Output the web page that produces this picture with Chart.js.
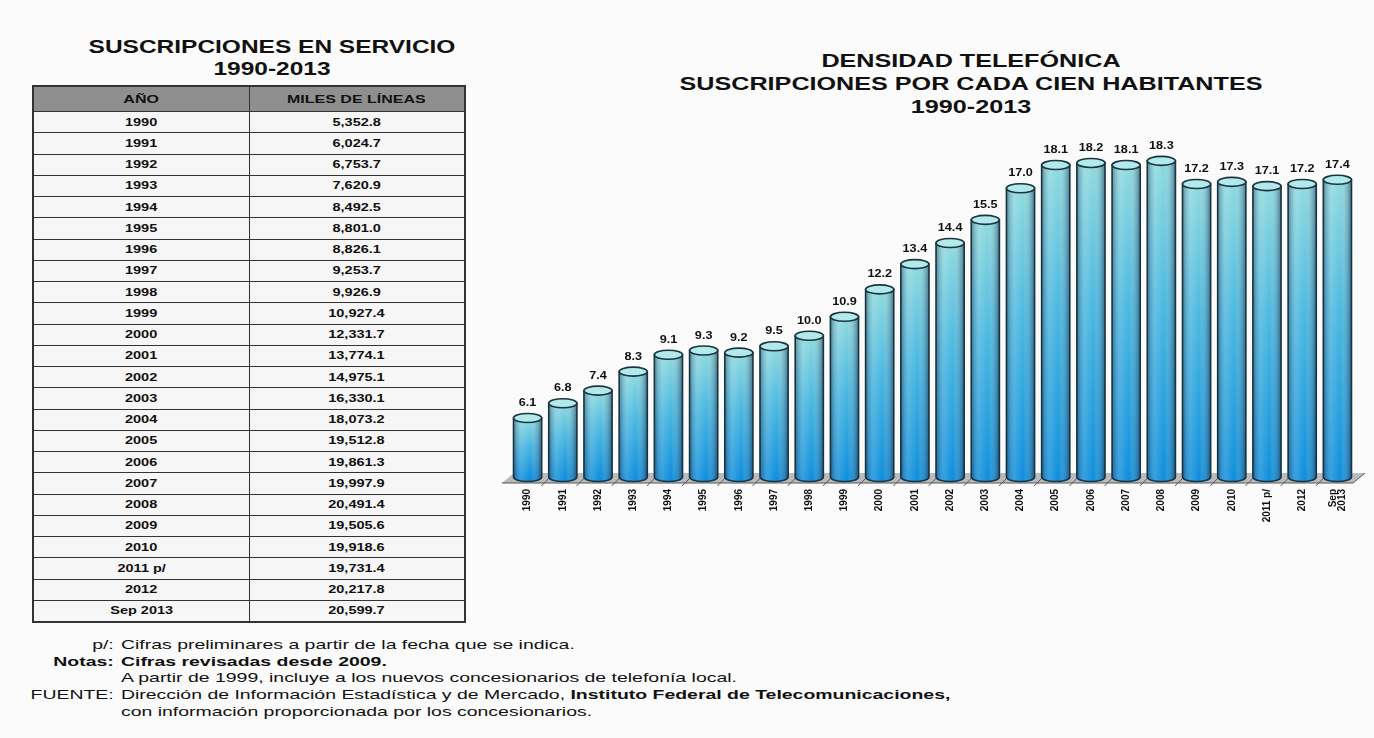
<!DOCTYPE html>
<html>
<head>
<meta charset="utf-8">
<script src="https://cdn.jsdelivr.net/npm/chart.js@4.4.0/dist/chart.umd.min.js"></script>
<style>
  body { margin: 0; background: #fbfbfb; font-family: Arial, "Liberation Sans", sans-serif; }
  #page { position: relative; width: 1374px; height: 738px; overflow: hidden; }
  .title { position: absolute; text-align: center; font-weight: bold; color: #111; transform: scaleX(1.36); }
  #tblTitle { left: 37px; width: 470px; top: 36px; font-size: 18px; line-height: 22px; }
  #chartTitle { left: 641px; width: 660px; top: 49px; font-size: 18.5px; line-height: 23px; }
  table { position: absolute; left: 32px; top: 85px; width: 434px; border-collapse: collapse; border: 2.5px solid #333; }
  th { background: #8f8f8f; height: 22px; font-size: 10px; color: #111; border: 1.5px solid #333; }
  td { height: 20.25px; padding: 0; font-size: 10px; font-weight: bold; text-align: center; color: #111; background: #f6f6f6; border: 1.5px solid #333; }
  .s { display: inline-block; transform: scaleX(1.45); }
  th .s { transform: scaleX(1.6); }
  #notes { position: absolute; left: 0; top: 637px; font-size: 13.5px; line-height: 16.7px; color: #111; transform: scaleX(1.44); transform-origin: 0 0; }
  #notes div { white-space: nowrap; }
  #notes .k { display: inline-block; width: 79px; text-align: right; padding-right: 5px; }
  #chartBox { position: absolute; left: 490px; top: 100px; width: 884px; height: 450px; }
</style>
</head>
<body>
<div id="page">
  <div class="title" id="tblTitle">SUSCRIPCIONES EN SERVICIO<br>1990-2013</div>
  <table id="tbl">
    <thead><tr><th style="width:50%"><span class="s">AÑO</span></th><th><span class="s">MILES DE LÍNEAS</span></th></tr></thead>
    <tbody></tbody>
  </table>

  <div class="title" id="chartTitle">DENSIDAD TELEFÓNICA<br>SUSCRIPCIONES POR CADA CIEN HABITANTES<br>1990-2013</div>
  <div id="chartBox"><canvas id="density"></canvas></div>

  <div id="notes">
    <div><span class="k">p/:</span>Cifras preliminares a partir de la fecha que se indica.</div>
    <div><b><span class="k">Notas:</span>Cifras revisadas desde 2009.</b></div>
    <div><span class="k"></span>A partir de 1999, incluye a los nuevos concesionarios de telefonía local.</div>
    <div><span class="k">FUENTE:</span>Dirección de Información Estadística y de Mercado, <b>Instituto Federal de Telecomunicaciones,</b></div>
    <div><span class="k"></span>con información proporcionada por los concesionarios.</div>
  </div>
</div>

<script>
// años de la tabla y del eje
const years = ['1990', '1991', '1992', '1993', '1994', '1995', '1996', '1997', '1998', '1999',
  '2000', '2001', '2002', '2003', '2004', '2005', '2006', '2007', '2008', '2009',
  '2010', '2011 p/', '2012', 'Sep 2013']

// miles de líneas en servicio
const lines = [5352.8, 6024.7, 6753.7, 7620.9, 8492.5, 8801.0, 8826.1, 9253.7, 9926.9, 10927.4,
  12331.7, 13774.1, 14975.1, 16330.1, 18073.2, 19512.8, 19861.3, 19997.9, 20491.4, 19505.6,
  19918.6, 19731.4, 20217.8, 20599.7]

// suscripciones por cada cien habitantes
const density = [6.1, 6.8, 7.4, 8.3, 9.1, 9.3, 9.2, 9.5, 10.0, 10.9,
  12.2, 13.4, 14.4, 15.5, 17.0, 18.1, 18.2, 18.1, 18.3, 17.2,
  17.3, 17.1, 17.2, 17.4]

// etiquetas del eje (las largas van en dos renglones)
const axisLabels = years.map(y => y === 'Sep 2013' ? ['Sep', '2013'] : y)

const fmt = v => v.toLocaleString('en-US', { minimumFractionDigits: 1, maximumFractionDigits: 1 })

const tbody = document.querySelector('#tbl tbody')
years.forEach((y, i) => {
    tbody.insertAdjacentHTML('beforeend',
        `<tr><td><span class="s">${y}</span></td><td><span class="s">${fmt(lines[i])}</span></td></tr>`)
})

// piso gris bajo las barras
const floorPlugin = {
    id: 'floor',
    beforeDatasetsDraw(chart) {
        const { ctx, chartArea } = chart
        const base = chart.scales.y.getPixelForValue(chart.scales.y.min)
        ctx.save()
        ctx.fillStyle = '#b9bcbf'
        ctx.strokeStyle = '#555'
        ctx.lineWidth = 1
        ctx.beginPath()
        ctx.moveTo(chartArea.left - 8, base + 6)
        ctx.lineTo(chartArea.right - 2, base + 6)
        ctx.lineTo(chartArea.right + 10, base - 4)
        ctx.lineTo(chartArea.left + 4, base - 4)
        ctx.closePath()
        ctx.fill()
        ctx.beginPath()
        ctx.moveTo(chartArea.left - 8, base + 6)
        ctx.lineTo(chartArea.right - 2, base + 6)
        ctx.lineTo(chartArea.right + 10, base - 4)
        ctx.stroke()
        // marcas entre barras
        const meta = chart.getDatasetMeta(0)
        meta.data.forEach((bar, i) => {
            if (i === 0) return
            const x = (bar.x + meta.data[i - 1].x) / 2
            ctx.beginPath()
            ctx.moveTo(x - 4, base + 9)
            ctx.lineTo(x + 4, base + 1)
            ctx.stroke()
        })
        ctx.restore()
    }
}

// etiquetas verticales del eje x, leídas de abajo hacia arriba
const yearLabelsPlugin = {
    id: 'yearLabels',
    afterDraw(chart) {
        const { ctx } = chart
        const xs = chart.scales.x
        const base = chart.scales.y.getPixelForValue(chart.scales.y.min)
        ctx.save()
        ctx.fillStyle = '#111'
        ctx.font = 'bold 10px Arial'
        ctx.textAlign = 'right'
        ctx.textBaseline = 'middle'
        axisLabels.forEach((lab, i) => {
            const rows = Array.isArray(lab) ? lab : [lab]
            const x = xs.getPixelForTick(i)
            rows.forEach((t, r) => {
                const dx = (r - (rows.length - 1) / 2) * 9
                ctx.save()
                ctx.translate(x + dx, base + 12)
                ctx.rotate(-Math.PI / 2)
                ctx.fillText(t, 0, 0)
                ctx.restore()
            })
        })
        ctx.restore()
    }
}

// cilindros: cuerpo con degradado, tapa elíptica y valor encima
const cylinderPlugin = {
    id: 'cylinder',
    afterDatasetsDraw(chart) {
        const { ctx } = chart
        const meta = chart.getDatasetMeta(0)
        const base = chart.scales.y.getPixelForValue(chart.scales.y.min)
        const ry = 4.5
        ctx.save()
        meta.data.forEach((bar, i) => {
            const w = bar.width
            const x0 = bar.x - w / 2
            const top = bar.y

            const g = ctx.createLinearGradient(0, top, 0, base)
            g.addColorStop(0, '#8fdade')
            g.addColorStop(0.45, '#4bb8e0')
            g.addColorStop(1, '#0f8fdc')

            ctx.beginPath()
            ctx.moveTo(x0, top)
            ctx.lineTo(x0, base)
            ctx.ellipse(bar.x, base, w / 2, ry, 0, Math.PI, 0, true)
            ctx.lineTo(x0 + w, top)
            ctx.closePath()
            ctx.fillStyle = g
            ctx.fill()

            // sombreado lateral
            const h = ctx.createLinearGradient(x0, 0, x0 + w, 0)
            h.addColorStop(0, 'rgba(10,40,70,0.45)')
            h.addColorStop(0.3, 'rgba(255,255,255,0.15)')
            h.addColorStop(0.6, 'rgba(255,255,255,0)')
            h.addColorStop(1, 'rgba(10,40,70,0.55)')
            ctx.fillStyle = h
            ctx.fill()

            ctx.lineWidth = 1.6
            ctx.strokeStyle = '#1c3440'
            ctx.stroke()

            ctx.beginPath()
            ctx.ellipse(bar.x, top, w / 2, ry, 0, 0, Math.PI * 2)
            ctx.fillStyle = '#b2e9ea'
            ctx.fill()
            ctx.stroke()

            // valor, un poco ensanchado
            ctx.save()
            ctx.translate(bar.x, top - ry - 5)
            ctx.scale(1.15, 1)
            ctx.fillStyle = '#111'
            ctx.font = 'bold 11px Arial'
            ctx.textAlign = 'center'
            ctx.textBaseline = 'bottom'
            ctx.fillText(density[i].toFixed(1), 0, 0)
            ctx.restore()
        })
        ctx.restore()
    }
}

function loaded() {
    const ctx = document.getElementById('density')
    new Chart(ctx, {
        type: 'bar',
        data: {
            labels: axisLabels,
            datasets: [{
                label: 'Suscripciones por cada cien habitantes',
                data: density,
                backgroundColor: 'rgba(0,0,0,0)',
                borderWidth: 0,
                barPercentage: 0.8,
                categoryPercentage: 1
            }]
        },
        options: {
            responsive: true,
            maintainAspectRatio: false,
            animation: false,
            layout: { padding: { left: 20, right: 19, top: 25, bottom: 33 } },
            plugins: { legend: { display: false }, tooltip: { enabled: false } },
            scales: {
                x: {
                    grid: { display: false },
                    border: { display: false },
                    afterFit: scale => { scale.height = 40 },
                    ticks: { display: false }
                },
                y: {
                    display: false,
                    min: 3.3,
                    max: 20
                }
            }
        },
        plugins: [floorPlugin, cylinderPlugin, yearLabelsPlugin]
    })
}

document.addEventListener('DOMContentLoaded', loaded)
</script>
</body>
</html>
